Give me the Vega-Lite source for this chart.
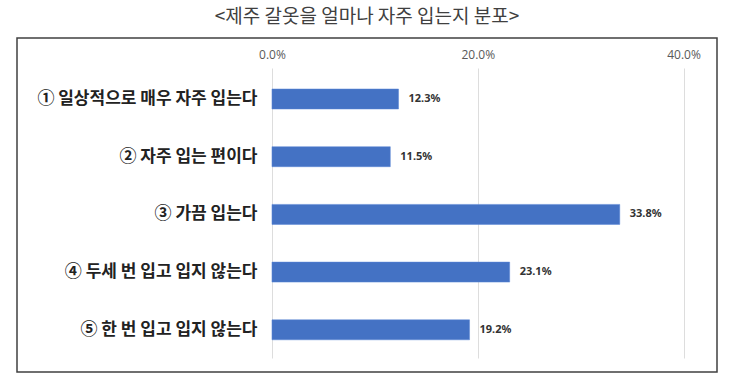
{
  "$schema": "https://vega.github.io/schema/vega-lite/v6.json",
  "width": 700,
  "height": 334,
  "autosize": {"type": "none"},
  "padding": {"left": 17, "top": 38, "right": 13, "bottom": 8},
  "background": "white",
  "title": {
    "text": "<제주 갈옷을 얼마나 자주 입는지 분포>",
    "font": "Noto Sans CJK KR",
    "fontSize": 19,
    "fontWeight": "normal",
    "color": "#404040",
    "anchor": "middle",
    "baseline": "middle",
    "offset": 2
  },
  "config": {
    "view": {"stroke": "#404040", "strokeWidth": 1.5},
    "font": "Noto Sans CJK KR"
  },
  "data": {
    "values": [
      {"category": "① 일상적으로 매우 자주 입는다", "value": 0.123},
      {"category": "② 자주 입는 편이다", "value": 0.115},
      {"category": "③ 가끔 입는다", "value": 0.338},
      {"category": "④ 두세 번 입고 입지 않는다", "value": 0.231},
      {"category": "⑤ 한 번 입고 입지 않는다", "value": 0.192}
    ]
  },
  "encoding": {
    "y": {
      "field": "category",
      "type": "nominal",
      "sort": null,
      "scale": {"paddingInner": 0.653, "paddingOuter": 0.721, "align": 0.613},
      "axis": {
        "title": null,
        "orient": "left",
        "offset": -255,
        "domain": false,
        "ticks": false,
        "grid": false,
        "labelPadding": 15,
        "labelLimit": 400,
        "labelFontSize": 17,
        "labelFontWeight": "bold",
        "labelColor": "#222222",
        "labelFont": "Noto Sans CJK KR"
      }
    },
    "x": {
      "field": "value",
      "type": "quantitative",
      "scale": {"domain": [-0.2478, 0.4325], "nice": false, "zero": false},
      "axis": {
        "title": null,
        "orient": "top",
        "values": [0, 0.2, 0.4],
        "format": ".1%",
        "offset": -30,
        "domain": false,
        "grid": false,
        "ticks": true,
        "tickSize": -290,
        "tickColor": "#dddddd",
        "tickWidth": 1,
        "labelPadding": 304,
        "labelBaseline": "middle",
        "labelFontSize": 12,
        "labelColor": "#595959",
        "labelFont": "Open Sans",
        "labelFlush": false
      }
    }
  },
  "layer": [
    {
      "mark": {"type": "bar", "color": "#4472C4", "stroke": "#5b87d6", "strokeWidth": 0.5},
      "encoding": {"x2": {"datum": 0}}
    },
    {
      "mark": {
        "type": "text",
        "align": "left",
        "baseline": "middle",
        "dx": 10,
        "fontSize": 11,
        "fontWeight": "bold",
        "color": "#333333",
        "font": "Noto Sans"
      },
      "encoding": {
        "text": {"field": "value", "type": "quantitative", "format": ".1%"}
      }
    }
  ]
}
